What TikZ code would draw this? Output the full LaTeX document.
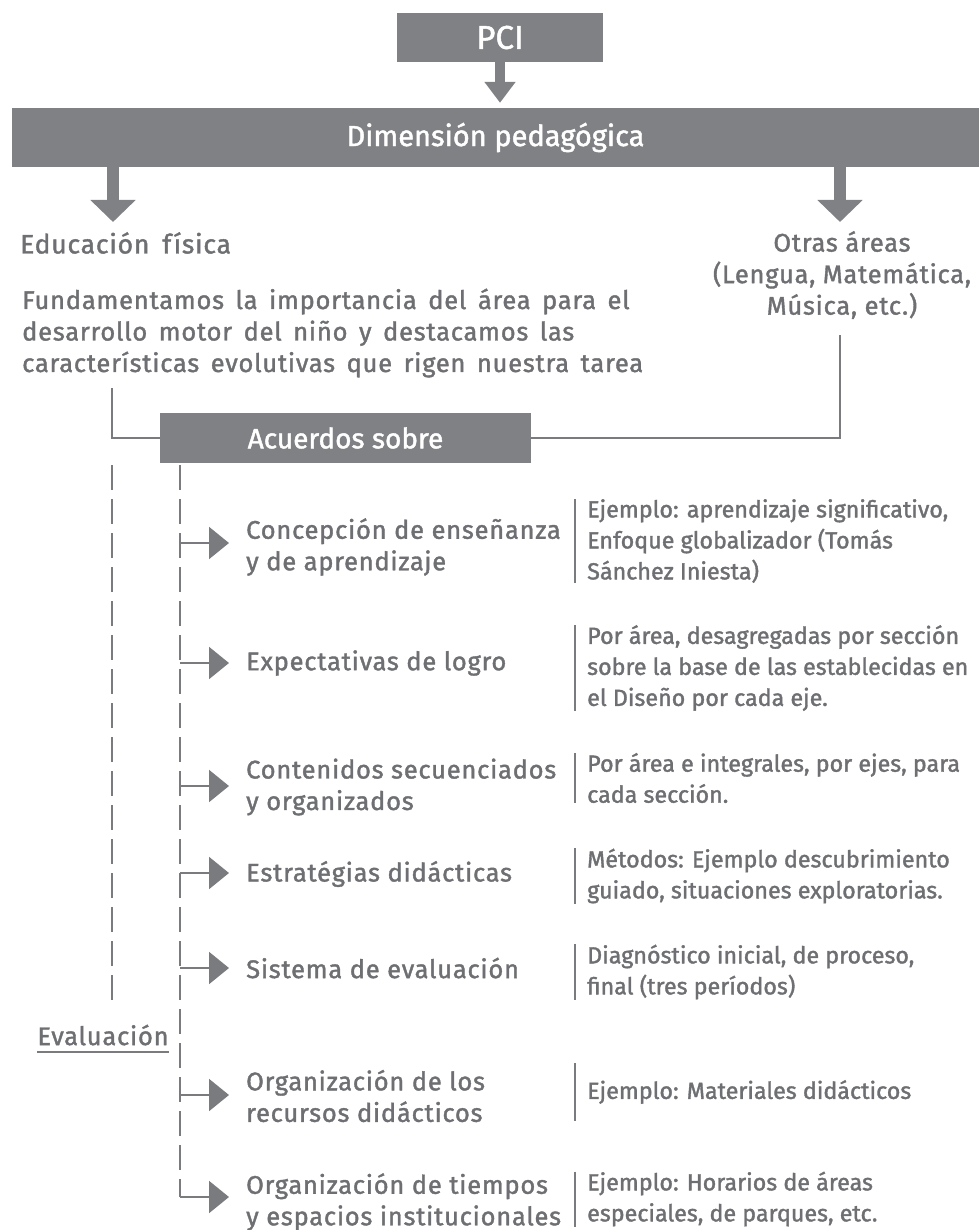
\documentclass[tikz,border=0pt]{standalone}
\usepackage{fontspec}
\usetikzlibrary{arrows.meta}
\setmainfont{Fira Sans}
\newfontfamily\lblfam[LetterSpace=3,FakeBold=1.5]{Fira Sans}
\newfontfamily\notefam[FakeBold=1.5]{Fira Sans}
\newfontfamily\boxfam[FakeBold=1.5]{Fira Sans}
\newcommand\educfont{\lblfam\fontsize{26.5}{31.5}\selectfont\spaceskip=13pt\relax}
\newcommand\fundfont{\lblfam\fontsize{25.5}{31.5}\selectfont\spaceskip=11.5pt plus 1pt\relax}
\definecolor{boxgray}{RGB}{128,129,132}
\definecolor{txtgray}{RGB}{110,111,114}
\definecolor{lingray}{RGB}{122,123,126}
\begin{document}
\begin{tikzpicture}[x=1pt,y=-1pt,
  graybox/.style={fill=boxgray,text=white,inner sep=0pt,draw=none},
  lbl/.style={text=txtgray,inner sep=0pt,anchor=west,align=left,font=\lblfam\fontsize{25.5}{31.5}\selectfont},
  note/.style={text=txtgray,inner sep=0pt,anchor=west,align=left,font=\notefam\fontsize{23.3}{31}\selectfont},
  ln/.style={draw=lingray,line width=2pt},
  dashln/.style={draw=lingray,line width=2pt,dash pattern=on 25pt off 9pt},
  bigarr/.style={draw=boxgray,line width=12pt,-{Triangle[width=44pt,length=22pt]}},
  midarr/.style={draw=boxgray,line width=10pt,-{Triangle[width=30pt,length=21pt]}},
  smallarr/.style={draw=lingray,line width=2pt,-{Triangle[width=32pt,length=20pt]},shorten >=17pt},
  barln/.style={draw=lingray,line width=2pt}
]
\useasboundingbox (0,0) rectangle (979,1230);

% top boxes
\node[graybox,minimum width=206pt,minimum height=49pt,font=\boxfam\fontsize{33}{36}\selectfont] (pci) at (500,37.5) {PCI};
\node[graybox,minimum width=967pt,minimum height=59pt,font=\boxfam\fontsize{29}{32}\selectfont] (dim) at (495.5,137.5) {Dimensión pedagógica};
\draw[midarr,shorten >=5pt] (pci.south) -- (pci.south |- dim.north);

% second level
\node[lbl,font=\educfont] (educ) at (20,243) {Educación física};
\node[lbl,anchor=center,align=center] (otras) at (842,275) {Otras áreas\\(Lengua, Matemática,\\Música, etc.)};
\node[lbl,font=\fundfont] (fund) at (22,333) {Fundamentamos la importancia del área para el\\desarrollo motor del niño y destacamos las\\características evolutivas que rigen nuestra tarea};

\coordinate (ea) at (113,167);
\coordinate (eb) at (113,222);
\coordinate (oa) at (840,167);
\coordinate (ob) at (840,222);
\draw[bigarr] (ea) -- (eb);
\draw[bigarr] (oa) -- (ob);

% Acuerdos sobre
\node[graybox,minimum width=371pt,minimum height=50pt,font=\boxfam\fontsize{28}{32}\selectfont] (acu) at (345.5,438) {Acuerdos sobre};
\coordinate (f1) at (112,388);
\coordinate (o1) at (840,335);
\draw[ln] (f1) |- (acu.west);
\draw[ln] (acu.east) -| (o1);

% dashed verticals
\coordinate (d1a) at (112,465);
\coordinate (d1b) at (112,1007);
\coordinate (d2a) at (180,465);
\coordinate (d2b) at (180,1197);
\draw[dashln] (d1a) -- (d1b);
\draw[dashln] (d2a) -- (d2b);

% Evaluacion
\node[lbl,anchor=center] (ev) at (103,1035) {Evaluación};
\draw[ln] ([yshift=-6pt]ev.south west) -- ([yshift=-6pt]ev.south east);

% items
\node[lbl] (c1) at (246,547) {Concepción de enseñanza\\y de aprendizaje};
\node[lbl] (c2) at (246,663) {Expectativas de logro};
\node[lbl] (c3) at (246,787) {Contenidos secuenciados\\y organizados};
\node[lbl] (c4) at (246,874) {Estratégias didácticas};
\node[lbl] (c5) at (246,968) {Sistema de evaluación};
\node[lbl] (c6) at (246,1096) {Organización de los\\recursos didácticos};
\node[lbl] (c7) at (246,1202) {Organización de tiempos\\y espacios institucionales};

\foreach \n/\y in {c1/543,c2/663,c3/786,c4/873,c5/968,c6/1095,c7/1197}{
  \coordinate (s\n) at (180,\y);
  \draw[smallarr] (s\n) -- (s\n -| \n.west);
}

% notes
\node[note] (n1) at (587,541) {Ejemplo: aprendizaje significativo,\\Enfoque globalizador (Tomás\\Sánchez Iniesta)};
\node[note] (n2) at (587,668) {Por área, desagregadas por sección\\sobre la base de las establecidas en\\el Diseño por cada eje.};
\node[note] (n3) at (587,778) {Por área e integrales, por ejes, para\\cada sección.};
\node[note] (n4) at (587,876) {Métodos: Ejemplo descubrimiento\\guiado, situaciones exploratorias.};
\node[note] (n5) at (587,972) {Diagnóstico inicial, de proceso,\\final (tres períodos)};
\node[note,minimum height=57pt] (n6) at (587,1092) {Ejemplo: Materiales didácticos};
\node[note] (n7) at (587,1199) {Ejemplo: Horarios de áreas\\especiales, de parques, etc.};

\foreach \n in {n1,n2,n3,n4,n5,n6,n7}{
  \draw[barln] ([xshift=-12pt]\n.north west) -- ([xshift=-12pt]\n.south west);
}
\end{tikzpicture}
\end{document}
